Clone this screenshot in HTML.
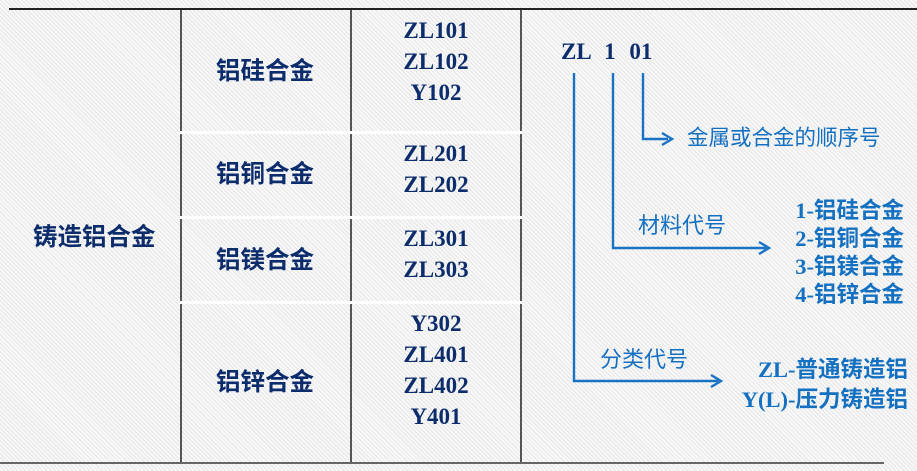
<!DOCTYPE html>
<html><head><meta charset="utf-8"><style>
html,body{margin:0;padding:0}
body{width:917px;height:471px;position:relative;overflow:hidden;
background:#f3f3f3;
background-image:repeating-linear-gradient(45deg,#e6e6e6 0 1px,#f8f8f8 1px 3px);
font-family:"Liberation Serif","Noto Sans CJK SC",serif;}
.t{position:absolute;white-space:nowrap;line-height:1}
.cn{font-family:"Liberation Sans","Noto Sans CJK SC",sans-serif;color:#0c2c6c;font-size:24.5px;font-weight:bold}
.code{font-family:"Liberation Serif","Noto Serif CJK SC",serif;font-weight:bold;color:#0c2c6c;font-size:23px;text-align:center;width:170px;left:351px;line-height:31px}
.b{color:#1470c0;font-family:"Liberation Serif","Noto Sans CJK SC",sans-serif;font-size:21px}
.r{text-align:right;font-weight:bold;font-size:22.5px}
</style></head><body>
<div style="position:absolute;left:9px;top:8px;width:908px;height:2px;background:#222"></div>
<div style="position:absolute;left:0;top:462px;width:884px;height:2px;background:#666"></div>
<div style="position:absolute;left:180px;top:10px;width:2px;height:452px;background:#555"></div>
<div style="position:absolute;left:350px;top:10px;width:2px;height:452px;background:#555"></div>
<div style="position:absolute;left:520px;top:10px;width:2px;height:452px;background:#555"></div>
<div style="position:absolute;left:180px;top:131px;width:342px;height:3px;background:#fff"></div>
<div style="position:absolute;left:180px;top:216px;width:342px;height:3px;background:#fff"></div>
<div style="position:absolute;left:180px;top:301px;width:342px;height:3px;background:#fff"></div>

<div class="t cn" style="left:33px;top:226px">铸造铝合金</div>
<div class="t cn" style="left:216px;top:60px">铝硅合金</div>
<div class="t cn" style="left:216px;top:163px">铝铜合金</div>
<div class="t cn" style="left:216px;top:249px">铝镁合金</div>
<div class="t cn" style="left:216px;top:371px">铝锌合金</div>

<div class="t code" style="top:15px">ZL101<br>ZL102<br>Y102</div>
<div class="t code" style="top:138px">ZL201<br>ZL202</div>
<div class="t code" style="top:223px">ZL301<br>ZL303</div>
<div class="t code" style="top:308px">Y302<br>ZL401<br>ZL402<br>Y401</div>

<div class="t" style="left:561px;top:40px;font-size:23px;font-weight:bold;color:#0c2c6c;word-spacing:8px">ZL 1 01</div>

<svg style="position:absolute;left:0;top:0" width="917" height="471">
<g stroke="#1a72c2" stroke-width="2.4" fill="none">
<polyline points="574,73 574,381 718,381"/>
<polyline points="613,73 613,248 766,248"/>
<polyline points="643,73 643,139 668,139"/>
<polyline points="711,375 721,381 711,387"/>
<polyline points="759,242 769,248 759,254"/>
<polyline points="662,133 672,139 662,145"/>
</g></svg>

<div class="t b" style="left:687px;top:128px;font-family:'Liberation Sans','Noto Sans CJK SC',sans-serif;font-size:21.5px">金属或合金的顺序号</div>
<div class="t b" style="left:638px;top:215px;font-family:'Liberation Sans','Noto Sans CJK SC',sans-serif;font-size:22px">材料代号</div>
<div class="t b" style="left:600px;top:349px;font-family:'Liberation Sans','Noto Sans CJK SC',sans-serif;font-size:22px">分类代号</div>
<div class="t b r" style="right:13px;top:197px;line-height:28px">1-铝硅合金<br>2-铝铜合金<br>3-铝镁合金<br>4-铝锌合金</div>
<div class="t b r" style="right:9px;top:355px;line-height:30px">ZL-普通铸造铝<br>Y(L)-压力铸造铝</div>
</body></html>
